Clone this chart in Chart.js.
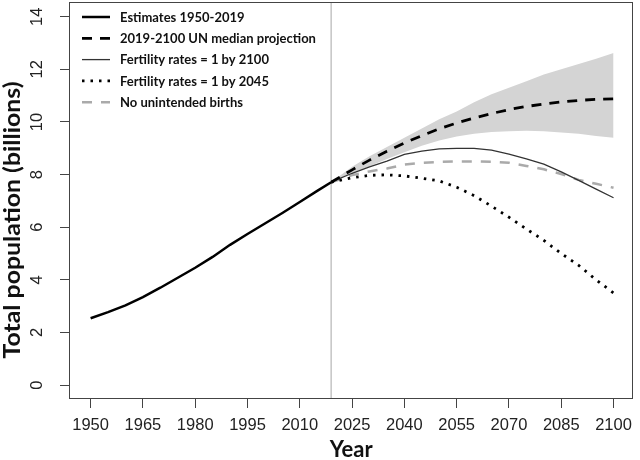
<!DOCTYPE html>
<html><head><meta charset="utf-8">
<script src="https://cdn.jsdelivr.net/npm/chart.js@4"></script>
<style>html,body{margin:0;padding:0;background:#fff;}#wrap{width:640px;height:460px;}</style>
</head><body><div id="wrap"><canvas id="c" width="640" height="460"></canvas></div>
<script>
// ---- data ----
const estYears = [1950,1955,1960,1965,1970,1975,1980,1985,1990,1995,2000,2005,2010,2015,2019];
const estimates = [2.54,2.77,3.03,3.34,3.70,4.08,4.46,4.87,5.33,5.74,6.14,6.54,6.96,7.38,7.71];
const projYears = [2019,2025,2030,2035,2040,2045,2050,2055,2060,2065,2070,2075,2080,2085,2090,2095,2100];
const unMedian = [7.71,8.18,8.55,8.89,9.20,9.48,9.74,9.96,10.15,10.32,10.47,10.59,10.68,10.76,10.82,10.86,10.88];
const unUpper = [7.71,8.30,8.70,9.05,9.40,9.75,10.10,10.40,10.75,11.05,11.30,11.55,11.80,12.00,12.20,12.40,12.62];
const unLower = [7.71,8.07,8.32,8.59,8.85,9.10,9.30,9.45,9.55,9.62,9.65,9.67,9.65,9.60,9.55,9.47,9.40];
const fert2100 = [7.71,8.05,8.29,8.51,8.77,8.89,8.98,9.00,9.00,8.93,8.78,8.60,8.40,8.10,7.78,7.45,7.12];
const fert2045 = [7.71,7.88,7.97,7.99,7.95,7.86,7.76,7.52,7.20,6.80,6.38,5.93,5.50,5.00,4.55,4.00,3.50];
const noUnintended = [7.71,7.98,8.12,8.23,8.38,8.45,8.48,8.50,8.50,8.49,8.45,8.33,8.20,8.02,7.80,7.65,7.50];
const xTicks = [1950,1965,1980,1995,2010,2025,2040,2055,2070,2085,2100];
const yTicks = [0,2,4,6,8,10,12,14];
const cutYear = 2019;
const seriesLabels = ['Estimates 1950-2019','2019-2100 UN median projection','Fertility rates = 1 by 2100','Fertility rates = 1 by 2045','No unintended births'];
const xTitle = 'Year';
const yTitle = 'Total population (billions)';

const pts = (xs, ys) => xs.map((x, i) => ({x: x, y: ys[i]}));

const datasets = [
  {label: seriesLabels[0], data: pts(estYears, estimates), borderColor:'#000', borderWidth:2.5, borderDash:[], order:1},
  {label: seriesLabels[1], data: pts(projYears, unMedian), borderColor:'#000', borderWidth:2.8, borderDash:[10,8], order:1},
  {label: seriesLabels[2], data: pts(projYears, fert2100), borderColor:'#333', borderWidth:1.3, borderDash:[], order:1},
  {label: seriesLabels[3], data: pts(projYears, fert2045), borderColor:'#000', borderWidth:2.8, borderDash:[2.5,6], order:1},
  {label: seriesLabels[4], data: pts(projYears, noUnintended), borderColor:'#aaaaaa', borderWidth:2.5, borderDash:[10,9], order:1},
  {label: 'upper', data: pts(projYears, unUpper), borderWidth:0, borderColor:'rgba(0,0,0,0)', backgroundColor:'#d4d4d4', fill:'+1', order:10, isBand:true},
  {label: 'lower', data: pts(projYears, unLower), borderWidth:0, borderColor:'rgba(0,0,0,0)', backgroundColor:'#d4d4d4', fill:false, order:10, isBand:true}
];

const axisColor = '#444';

const custom = {
  id: 'custom',
  beforeDatasetsDraw(chart) {
    const {ctx, chartArea: a, scales: {x}} = chart;
    const px = x.getPixelForValue(cutYear);
    ctx.save();
    ctx.strokeStyle = '#c4c4c4';
    ctx.lineWidth = 1.5;
    ctx.beginPath();
    ctx.moveTo(px, a.top); ctx.lineTo(px, a.bottom);
    ctx.stroke();
    ctx.restore();
  },
  afterDraw(chart) {
    const {ctx, chartArea: a, scales: {y}} = chart;
    ctx.save();
    // box
    ctx.strokeStyle = axisColor;
    ctx.lineWidth = 1;
    ctx.strokeRect(Math.round(a.left) + 0.5, Math.round(a.top) + 0.5, Math.round(a.right - a.left) - 1, Math.round(a.bottom - a.top) - 1);
    // rotated y tick labels
    ctx.fillStyle = '#222';
    ctx.font = '16.5px "Liberation Sans", Arial, sans-serif';
    ctx.textAlign = 'center';
    ctx.textBaseline = 'alphabetic';
    y.ticks.forEach(t => {
      const py = y.getPixelForValue(t.value);
      ctx.save();
      ctx.translate(a.left - 27, py);
      ctx.rotate(-Math.PI / 2);
      ctx.fillText(String(t.value), 0, 0);
      ctx.restore();
    });
    // axis titles
    ctx.fillStyle = '#111';
    ctx.font = 'bold 22px Lato, sans-serif';
    ctx.textAlign = 'center';
    ctx.textBaseline = 'alphabetic';
    ctx.fillText(xTitle, (a.left + a.right) / 2, 457);
    ctx.save();
    ctx.translate(20, 220);
    ctx.rotate(-Math.PI / 2);
    ctx.scale(1.13, 1);
    ctx.fillText(yTitle, 0, 0);
    ctx.restore();
    // legend
    const lineDs = chart.data.datasets.filter(d => !d.isBand);
    ctx.font = 'bold 13px Lato, sans-serif';
    ctx.textAlign = 'left';
    ctx.textBaseline = 'middle';
    lineDs.forEach((d, i) => {
      const ly = 17 + i * 21.3;
      ctx.save();
      ctx.strokeStyle = d.borderColor;
      ctx.lineWidth = d.borderWidth;
      ctx.setLineDash(d.borderDash || []);
      ctx.beginPath();
      ctx.moveTo(82, ly); ctx.lineTo(110, ly);
      ctx.stroke();
      ctx.restore();
      ctx.fillStyle = '#111';
      ctx.fillText(d.label, 120, ly + 0.5);
    });
    ctx.restore();
  }
};

new Chart(document.getElementById('c'), {
  type: 'line',
  data: {datasets},
  options: {
    responsive: false,
    devicePixelRatio: 1,
    animation: false,
    layout: {padding: {left: 0, top: 2, right: 3, bottom: 0}},
    elements: {point: {radius: 0}, line: {tension: 0, borderCapStyle: 'butt'}},
    plugins: {legend: {display: false}, tooltip: {enabled: false}},
    scales: {
      x: {
        type: 'linear', min: 1943.8, max: 2105.7,
        afterBuildTicks: s => { s.ticks = xTicks.map(v => ({value: v})); },
        afterFit: s => { s.height = 61; },
        border: {display: false},
        grid: {display: true, drawOnChartArea: false, drawTicks: true, tickLength: 9, color: axisColor, lineWidth: 1},
        ticks: {color: '#222', font: {family: '"Liberation Sans", Arial, sans-serif', size: 16.5}, padding: 8, maxRotation: 0, autoSkip: false, callback: v => String(v)},
        title: {display: false}
      },
      y: {
        type: 'linear', min: -0.53, max: 14.56,
        afterBuildTicks: s => { s.ticks = yTicks.map(v => ({value: v})); },
        afterFit: s => { s.width = 69; },
        border: {display: false},
        grid: {display: true, drawOnChartArea: false, drawTicks: true, tickLength: 9, color: axisColor, lineWidth: 1},
        ticks: {display: false},
        title: {display: false}
      }
    }
  },
  plugins: [custom]
});
</script>
</body></html>
